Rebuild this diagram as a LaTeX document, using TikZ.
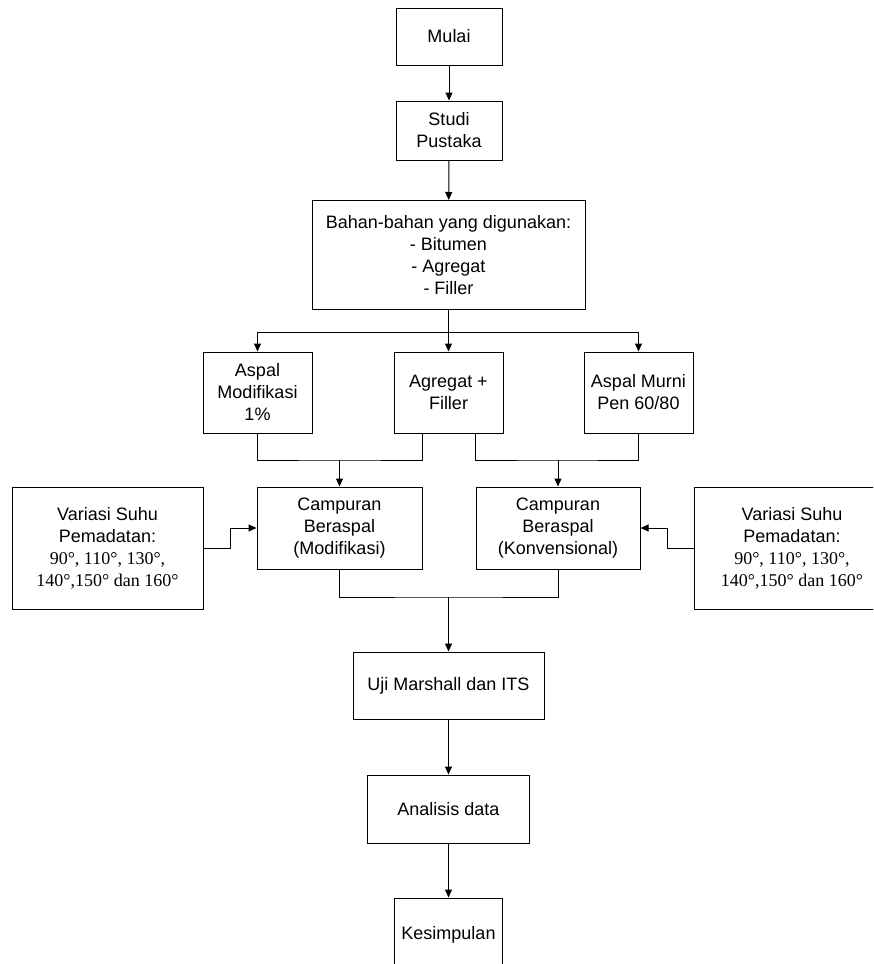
\documentclass[tikz,border=0pt]{standalone}
\usepackage{fontspec}
\setmainfont{Liberation Sans}
\newfontfamily\timesfont{Liberation Serif}
\usetikzlibrary{arrows.meta}

\tikzset{
  kotak/.style={draw, line width=1pt, align=center, inner sep=0pt, font=\fontsize{18}{22}\selectfont},
  panah/.style={-{Triangle[length=8pt,width=7pt]}, line width=1pt},
  garis/.style={line width=1pt},
}

\begin{document}
\begin{tikzpicture}[x=1pt,y=-1pt]
% Set the page size
\useasboundingbox (0,0) rectangle (873,964);
\clip (0,0) rectangle (873,964);

% Main column
\node[kotak, minimum width=106pt, minimum height=57pt] (mulai) at (449,36.5) {Mulai};
\node[kotak, minimum width=106pt, minimum height=59pt] (studi) at (449,130.5) {Studi\\Pustaka};
\node[kotak, minimum width=273pt, minimum height=109pt] (bahan) at (448.5,255) {Bahan-bahan yang digunakan:\\- Bitumen\\- Agregat\\- Filler};

% Materials
\node[kotak, minimum width=109pt, minimum height=81pt] (modif) at (257.5,392.5) {Aspal\\Modifikasi\\1\%};
\node[kotak, minimum width=109pt, minimum height=81pt] (agregat) at (448.5,392.5) {Agregat +\\Filler};
\node[kotak, minimum width=109pt, minimum height=81pt] (murni) at (638.5,392.5) {Aspal Murni\\Pen 60/80};

% Mixtures and temperature variations
\node[kotak, minimum width=165pt, minimum height=82pt] (campmod) at (339.5,528) {Campuran\\Beraspal\\(Modifikasi)};
\node[kotak, minimum width=164pt, minimum height=82pt] (campkonv) at (558,528) {Campuran\\Beraspal\\(Konvensional)};
\node[kotak, minimum width=191pt, minimum height=122pt] (varkiri) at (107.5,548) {Variasi Suhu\\Pemadatan:\\{\timesfont 90°, 110°, 130°,}\\{\timesfont 140°,150° dan 160°}};
\node[kotak, minimum width=196pt, minimum height=122pt] (varkanan) at (792,548) {Variasi Suhu\\Pemadatan:\\{\timesfont 90°, 110°, 130°,}\\{\timesfont 140°,150° dan 160°}};

% Testing and results
\node[kotak, minimum width=191pt, minimum height=67pt] (uji) at (448.5,685.5) {Uji Marshall dan ITS};
\node[kotak, minimum width=162pt, minimum height=68pt] (analisis) at (448.5,809) {Analisis data};
\node[kotak, minimum width=108pt, minimum height=74pt] (kesimpulan) at (448.5,935) {Kesimpulan};

% Junction points
\coordinate (cabang) at (448.5,332);
\coordinate (gabkiri) at (339.5,460);
\coordinate (gabkanan) at (558,460);
\coordinate (gabbawah) at (448.5,597);

% Connectors
\draw[panah] (mulai) -- (studi);
\draw[panah] (studi) -- (bahan);
\draw[garis] (bahan.south) -- (cabang);
\draw[panah] (cabang) -- (agregat);
\draw[panah] (cabang) -| (modif.north);
\draw[panah] (cabang) -| (murni.north);
\draw[garis] (modif.south) |- (gabkiri) -| (campmod.east |- agregat.south);
\draw[garis] (campkonv.west |- agregat.south) |- (gabkanan) -| (murni.south);
\draw[panah] (gabkiri) -- (campmod);
\draw[panah] (gabkanan) -- (campkonv);
\draw[panah] (varkiri.east) -- ++(27,0) |- (campmod.west);
\draw[panah] (varkanan.west) -- ++(-26,0) |- (campkonv.east);
\draw[garis] (campmod.south) |- (gabbawah) -| (campkonv.south);
\draw[panah] (gabbawah) -- (uji);
\draw[panah] (uji) -- (analisis);
\draw[panah] (analisis) -- (kesimpulan);
\end{tikzpicture}
\end{document}
